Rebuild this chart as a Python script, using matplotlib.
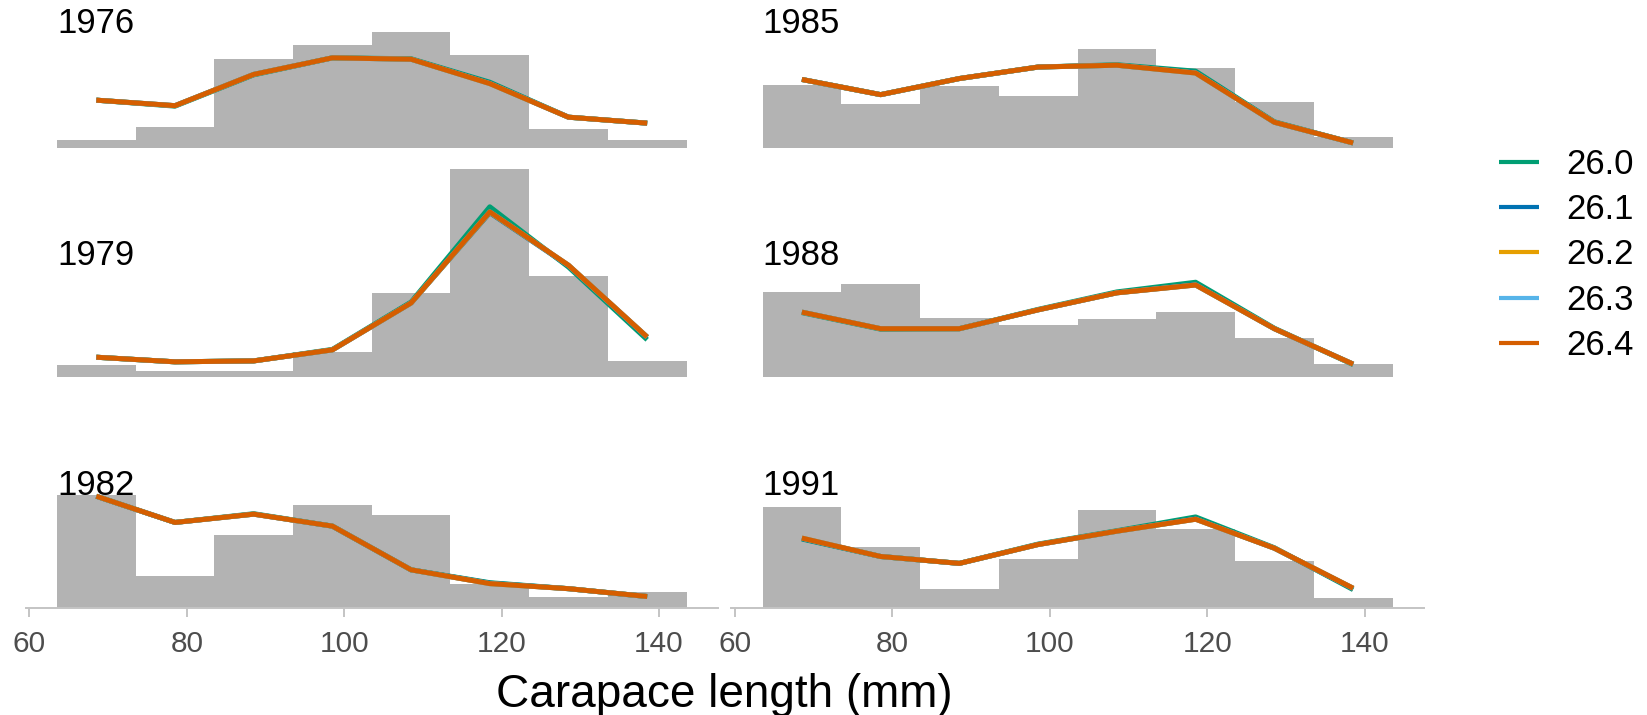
import matplotlib
matplotlib.use("Agg")
import matplotlib.pyplot as plt
import matplotlib.transforms as mtransforms

plt.rcParams['font.family'] = ['Liberation Sans', 'DejaVu Sans']

# Données : proportions observées par classe de taille (gris) et ajustements
years = [1976, 1979, 1982, 1985, 1988, 1991]
bin_mid = [68.5, 78.5, 88.5, 98.5, 108.5, 118.5, 128.5, 138.5]
bin_width = 10
series = ['26.0', '26.1', '26.2', '26.3', '26.4']
colors = ['#009E73', '#0072B2', '#E69F00', '#56B4E9', '#D55E00']
xticks = [60, 80, 100, 120, 140]

obs = [
    [0.018, 0.045, 0.193, 0.225, 0.252, 0.202, 0.041, 0.018],  # 1976
    [0.025, 0.012, 0.012, 0.055, 0.183, 0.452, 0.220, 0.035],  # 1979
    [0.246, 0.070, 0.159, 0.224, 0.202, 0.052, 0.025, 0.035],  # 1982
    [0.138, 0.096, 0.134, 0.114, 0.216, 0.173, 0.100, 0.023],  # 1985
    [0.184, 0.202, 0.128, 0.112, 0.125, 0.141, 0.084, 0.029],  # 1988
    [0.220, 0.133, 0.041, 0.107, 0.214, 0.172, 0.102, 0.022],  # 1991
]

fit_260 = [
    [0.104, 0.091, 0.159, 0.196, 0.194, 0.143, 0.067, 0.054],
    [0.043, 0.033, 0.035, 0.060, 0.163, 0.370, 0.239, 0.081],
    [0.243, 0.186, 0.205, 0.178, 0.083, 0.055, 0.042, 0.025],
    [0.149, 0.116, 0.151, 0.176, 0.181, 0.167, 0.057, 0.011],
    [0.140, 0.104, 0.105, 0.147, 0.185, 0.206, 0.106, 0.027],
    [0.150, 0.112, 0.097, 0.139, 0.168, 0.198, 0.131, 0.040],
]
fit_261 = [
    [0.104, 0.092, 0.160, 0.196, 0.193, 0.141, 0.067, 0.054],
    [0.043, 0.033, 0.035, 0.059, 0.161, 0.357, 0.242, 0.086],
    [0.243, 0.186, 0.204, 0.178, 0.083, 0.054, 0.042, 0.025],
    [0.149, 0.116, 0.151, 0.176, 0.180, 0.164, 0.056, 0.011],
    [0.141, 0.105, 0.105, 0.146, 0.183, 0.201, 0.105, 0.028],
    [0.151, 0.112, 0.097, 0.138, 0.167, 0.194, 0.130, 0.042],
]
fit_262 = [
    [0.104, 0.092, 0.160, 0.196, 0.193, 0.140, 0.067, 0.054],
    [0.043, 0.033, 0.035, 0.059, 0.161, 0.358, 0.243, 0.087],
    [0.243, 0.186, 0.204, 0.178, 0.083, 0.053, 0.042, 0.025],
    [0.149, 0.116, 0.151, 0.176, 0.180, 0.163, 0.056, 0.011],
    [0.141, 0.105, 0.105, 0.146, 0.183, 0.200, 0.105, 0.028],
    [0.152, 0.112, 0.097, 0.138, 0.167, 0.193, 0.130, 0.043],
]
fit_263 = [
    [0.104, 0.092, 0.160, 0.196, 0.193, 0.140, 0.067, 0.054],
    [0.043, 0.033, 0.035, 0.059, 0.161, 0.359, 0.243, 0.087],
    [0.243, 0.186, 0.204, 0.178, 0.083, 0.053, 0.042, 0.025],
    [0.149, 0.116, 0.151, 0.176, 0.180, 0.163, 0.056, 0.011],
    [0.141, 0.105, 0.105, 0.146, 0.183, 0.200, 0.105, 0.028],
    [0.152, 0.112, 0.097, 0.138, 0.167, 0.193, 0.130, 0.043],
]
fit_264 = [
    [0.104, 0.092, 0.160, 0.196, 0.193, 0.140, 0.067, 0.054],
    [0.043, 0.033, 0.035, 0.059, 0.161, 0.359, 0.243, 0.087],
    [0.243, 0.186, 0.204, 0.178, 0.083, 0.053, 0.042, 0.025],
    [0.149, 0.116, 0.151, 0.176, 0.180, 0.163, 0.056, 0.011],
    [0.141, 0.105, 0.105, 0.146, 0.183, 0.200, 0.105, 0.028],
    [0.152, 0.112, 0.097, 0.138, 0.167, 0.193, 0.130, 0.043],
]
fits = [fit_260, fit_261, fit_262, fit_263, fit_264]

# Mise en page (pixels de la figure)
W, H = 1647, 715
col_x = [25.5, 731]
col_w = [692.5, 693]
row_base = [148, 377, 608]
row_label = [33, 265, 495]   # ligne de base du texte de l'année
ax_h = 215
px_per_unit = 460

fig = plt.figure(figsize=(W / 100, H / 100), dpi=100)

lines_for_legend = []
for i, yr in enumerate(years):
    col, row = i // 3, i % 3
    ax = fig.add_axes([col_x[col] / W, 1 - row_base[row] / H, col_w[col] / W, ax_h / H])
    ax.bar(bin_mid, obs[i], width=bin_width, color='#B3B3B3', linewidth=0)
    for k in range(len(series)):
        ln, = ax.plot(bin_mid, fits[k][i], color=colors[k], lw=3.6, solid_capstyle='butt',
                      label=series[k])
        if i == 0:
            lines_for_legend.append(ln)
    ax.set_xlim(59.5, 147.5)
    ax.set_ylim(0, ax_h / px_per_unit)
    ax.patch.set_visible(False)
    for s in ['top', 'right', 'left']:
        ax.spines[s].set_visible(False)
    ax.set_yticks([])
    if row == 2:
        ax.spines['bottom'].set_color('#C4C4C4')
        ax.spines['bottom'].set_linewidth(1.4)
        ax.set_xticks(xticks)
        ax.tick_params(axis='x', colors='#C4C4C4', length=6.5, width=1.4,
                       labelsize=21.5, labelcolor='#4D4D4D', pad=9)
    else:
        ax.spines['bottom'].set_visible(False)
        ax.set_xticks([])
    trans = mtransforms.blended_transform_factory(ax.transData, fig.transFigure)
    ax.text(63.5, 1 - row_label[row] / H, str(yr), transform=trans, ha='left',
            va='baseline', fontsize=25, color='black')

fig.text(724.5 / W, 1 - 695 / H, 'Carapace length (mm)', ha='center', va='center',
         fontsize=33, color='black')

fig.legend(handles=lines_for_legend, labels=series, loc='center left',
           bbox_to_anchor=(1499 / W, 1 - 255 / H), frameon=False, fontsize=25,
           handlelength=1.15, handletextpad=0.8, labelspacing=0.35,
           borderpad=0, borderaxespad=0)
for h in fig.legends[0].legend_handles:
    h.set_linewidth(3.0)

fig.savefig('out.png', dpi=100)
